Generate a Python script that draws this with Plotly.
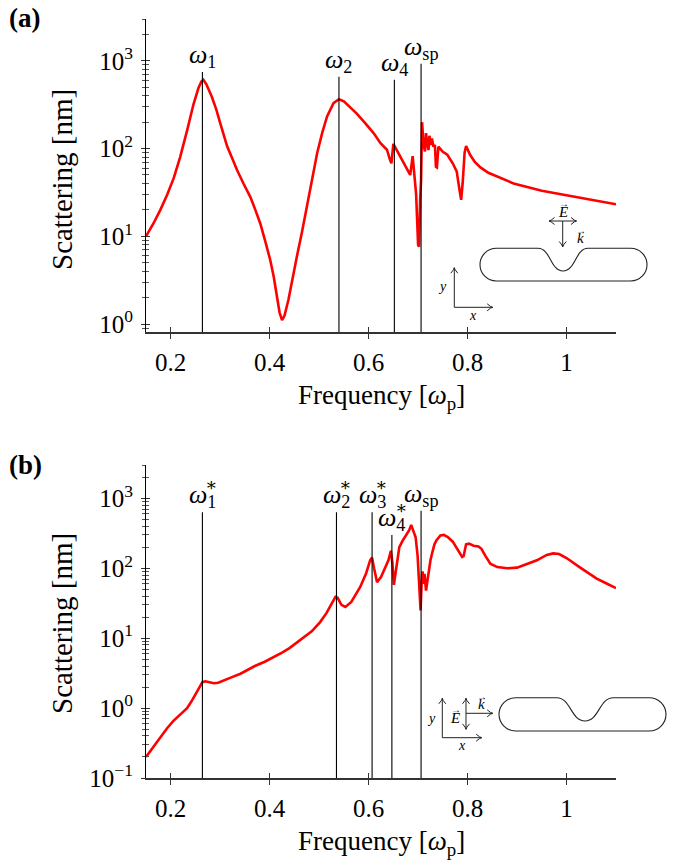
import math
import plotly.graph_objects as go

# ---------------- data ----------------
freq_a = [0.15, 0.165, 0.179, 0.193, 0.206, 0.219, 0.233, 0.246, 0.256, 0.262, 0.266, 0.272, 0.283,
          0.292, 0.300, 0.307, 0.314, 0.324, 0.334, 0.347, 0.361, 0.371, 0.381, 0.391, 0.401, 0.408,
          0.415, 0.420, 0.425, 0.430, 0.438, 0.446, 0.455, 0.465, 0.475, 0.486, 0.496, 0.506, 0.516,
          0.529, 0.540, 0.550, 0.563, 0.576, 0.593, 0.610, 0.624, 0.637, 0.643, 0.646, 0.650, 0.655,
          0.668, 0.684, 0.689, 0.692, 0.696, 0.700, 0.702, 0.704, 0.706, 0.708, 0.711, 0.714, 0.716,
          0.718, 0.721, 0.723, 0.725, 0.728, 0.731, 0.734, 0.736, 0.738, 0.741, 0.750, 0.759, 0.770,
          0.778, 0.784, 0.787, 0.790, 0.794, 0.797, 0.805, 0.815, 0.826, 0.842, 0.859, 0.893, 0.950,
          0.994, 1.050, 1.100]
scat_a = [10, 14, 20, 30, 46, 80, 160, 320, 490, 580, 610, 540, 390,
          280, 195, 145, 106, 78, 57, 40, 28, 20, 14, 8.8, 5.4, 3.5,
          2.0, 1.35, 1.11, 1.25, 1.9, 3.3, 5.9, 11, 22, 45, 89, 150, 233,
          330, 365, 345, 295, 250, 195, 150, 115, 97, 75, 68, 113, 100,
          72, 50, 82, 48, 30, 8, 7.6, 25, 44, 200, 110, 93, 150,
          120, 96, 140, 110, 130, 105, 110, 62, 61, 105, 92, 85, 68,
          55, 33, 26, 40, 90, 107, 85, 70, 61, 53, 48, 40, 33,
          29.6, 26, 23.2]

freq_b = [0.15, 0.16, 0.17, 0.18, 0.193, 0.205, 0.215, 0.225, 0.233, 0.242, 0.250, 0.258, 0.264,
          0.270, 0.278, 0.287, 0.296, 0.310, 0.325, 0.341, 0.370, 0.390, 0.408, 0.425, 0.440, 0.462,
          0.485, 0.502, 0.515, 0.525, 0.533, 0.537, 0.545, 0.553, 0.565,
          0.583, 0.595, 0.603, 0.607, 0.611, 0.617, 0.625, 0.640, 0.645, 0.648, 0.651, 0.655, 0.662,
          0.669, 0.676, 0.682, 0.686, 0.690, 0.695, 0.699, 0.702, 0.705, 0.707, 0.709, 0.711, 0.713,
          0.716, 0.719, 0.721, 0.725, 0.728, 0.733, 0.737, 0.745, 0.752, 0.760, 0.770, 0.778, 0.785,
          0.789, 0.792, 0.797, 0.803, 0.812, 0.822, 0.828, 0.836, 0.846, 0.860, 0.880, 0.900, 0.920,
          0.940, 0.960, 0.973, 0.985, 1.000, 1.027, 1.045, 1.061, 1.080, 1.100]
scat_b = [0.2, 0.25, 0.31, 0.39, 0.52, 0.65, 0.76, 0.88, 1.0, 1.25, 1.55, 2.0, 2.35,
          2.42, 2.35, 2.27, 2.3, 2.5, 2.8, 3.1, 4.0, 4.6, 5.3, 6.2, 7.2, 9.3,
          12.5, 17, 23, 31, 39, 38, 30, 28, 33,
          54, 85, 130, 142, 100, 63, 75, 130, 178, 120, 58, 90, 200,
          250, 300, 350, 418, 340, 278, 150, 60, 25, 60, 90, 60, 83,
          48, 70, 83, 130, 161, 220, 250, 295, 300, 280, 240, 195, 160,
          145, 150, 220, 225, 210, 205, 190, 150, 116, 104, 100, 102, 114,
          130, 155, 163, 160, 140, 103, 85, 71, 61, 52]

res_a = [0.264, 0.540, 0.652, 0.706]
res_a_top = [748, 657, 607, 925]
res_a_lab = ["<i>ω</i><sub>1</sub>", "<i>ω</i><sub>2</sub>", "<i>ω</i><sub>4</sub>", "<i>ω</i><sub>sp</sub>"]
res_a_star = [False, False, False, False]

res_b = [0.264, 0.535, 0.607, 0.647, 0.706]
res_b_top = [631, 631, 631, 300, 667]
res_b_lab = ["<i>ω</i><sub>1</sub>", "<i>ω</i><sub>2</sub>", "<i>ω</i><sub>3</sub>", "<i>ω</i><sub>4</sub>", "<i>ω</i><sub>sp</sub>"]
res_b_star = [True, True, True, True, False]

x_ticks = [0.2, 0.4, 0.6, 0.8, 1.0]
x_ticktext = ["0.2", "0.4", "0.6", "0.8", "1"]
ya_ticks = [1, 10, 100, 1000]
yb_ticks = [0.1, 1, 10, 100, 1000]

# ---------------- geometry helpers ----------------
W, H = 674, 860
L, R = 146, 616
TOP, BOT = 19, 778
def PX(x): return (x - L) / (R - L)
def PY(y): return (BOT - y) / (BOT - TOP)

XR = [0.15, 1.1]
YA = [-0.091, math.log10(3000)]
YB = [-1.0, math.log10(3000)]
dom_a = [PY(332), 1.0]
dom_b = [0.0, PY(465)]

FONT = "'Liberation Serif', 'Times New Roman', 'DejaVu Serif', serif"
RED = "#ff0000"
AX = "#333333"

def minor_vals(lo, hi):
    out = []
    for e in range(lo, hi + 1):
        for m in range(2, 10):
            out.append(m * 10 ** e)
    return out

fig = go.Figure()

fig.add_trace(go.Scatter(x=freq_a, y=scat_a, mode="lines", line=dict(color=RED, width=2.6),
                         xaxis="x", yaxis="y", showlegend=False, hoverinfo="skip"))
fig.add_trace(go.Scatter(x=freq_b, y=scat_b, mode="lines", line=dict(color=RED, width=2.6),
                         xaxis="x2", yaxis="y2", showlegend=False, hoverinfo="skip"))

def vlines(ws, tops, ybot, xa, ya):
    xs, ys = [], []
    for w, t in zip(ws, tops):
        xs += [w, w, None]
        ys += [ybot, t, None]
    fig.add_trace(go.Scatter(x=xs, y=ys, mode="lines", line=dict(color="black", width=1.1),
                             xaxis=xa, yaxis=ya, showlegend=False, hoverinfo="skip"))

vlines(res_a, res_a_top, 10 ** YA[0], "x", "y")
vlines(res_b, res_b_top, 10 ** YB[0], "x2", "y2")

fig.add_trace(go.Scatter(x=[None], y=[None], xaxis="x3", yaxis="y3", showlegend=False, hoverinfo="skip"))
fig.add_trace(go.Scatter(x=[None], y=[None], xaxis="x4", yaxis="y4", showlegend=False, hoverinfo="skip"))

tickfont = dict(family=FONT, size=25, color="black")

def xaxis(anchor, inside=False, overlay=None):
    d = dict(range=XR, domain=[0, 1], anchor=anchor, showgrid=False, zeroline=False,
             tickvals=x_ticks, ticktext=x_ticktext, tickfont=tickfont,
             ticks="inside" if inside else "outside", ticklen=5, tickwidth=1, tickcolor=AX,
             showline=not inside, linecolor=AX, linewidth=1.6, showticklabels=not inside,
             ticklabelstandoff=2)
    if overlay:
        d["overlaying"] = overlay
    return d

def yaxis(anchor, rng, dom, ticks, labels, lo, hi, inside=False, overlay=None):
    d = dict(type="log", range=rng, domain=dom, anchor=anchor, showgrid=False, zeroline=False,
             tickvals=ticks, ticktext=labels, tickfont=tickfont,
             ticks="inside" if inside else "outside", ticklen=4, tickwidth=1, tickcolor=AX,
             showline=not inside, linecolor="black", linewidth=1.2, showticklabels=not inside,
             ticklabelstandoff=3,
             minor=dict(tickvals=minor_vals(lo, hi), ticks="inside" if inside else "outside",
                        ticklen=2.5, tickwidth=0.8, tickcolor="#555555"))
    if overlay:
        d["overlaying"] = overlay
    return d

lab_a = ["10<sup>0</sup>", "10<sup>1</sup>", "10<sup>2</sup>", "10<sup>3</sup>"]
lab_b = ["10<sup>−1</sup>", "10<sup>0</sup>", "10<sup>1</sup>", "10<sup>2</sup>", "10<sup>3</sup>"]

fig.update_layout(
    width=W, height=H,
    margin=dict(l=L, r=W - R, t=TOP, b=H - BOT),
    paper_bgcolor="white", plot_bgcolor="white",
    font=dict(family=FONT, color="black"),
    xaxis=xaxis("y"),
    yaxis=yaxis("x", YA, dom_a, ya_ticks, lab_a, -1, 3),
    xaxis2=xaxis("y2"),
    yaxis2=yaxis("x2", YB, dom_b, yb_ticks, lab_b, -1, 3),
    xaxis3=xaxis("y3", inside=True, overlay="x"),
    yaxis3=yaxis("x3", YA, dom_a, ya_ticks, lab_a, -1, 3, inside=True, overlay="y"),
    xaxis4=xaxis("y4", inside=True, overlay="x2"),
    yaxis4=yaxis("x4", YB, dom_b, yb_ticks, lab_b, -1, 3, inside=True, overlay="y2"),
)

ann = []
LBL = 26
for w, t, lab, st in zip(res_a, res_a_top, res_a_lab, res_a_star):
    ann.append(dict(x=w, y=math.log10(t), xref="x", yref="y", text=lab, showarrow=False,
                    xanchor="center", yanchor="bottom", yshift=-2, font=dict(size=LBL, family=FONT)))
for w, t, lab, st in zip(res_b, res_b_top, res_b_lab, res_b_star):
    ann.append(dict(x=w, y=math.log10(t), xref="x2", yref="y2", text=lab, showarrow=False,
                    xanchor="center", yanchor="bottom", yshift=-2, font=dict(size=LBL, family=FONT)))
    if st:
        ann.append(dict(x=w, y=math.log10(t), xref="x2", yref="y2", text="∗", showarrow=False,
                        xanchor="center", yanchor="bottom", xshift=9, yshift=15,
                        font=dict(size=18, family=FONT)))

def ptxt(x, y, text, size, **kw):
    d = dict(x=PX(x), y=PY(y), xref="paper", yref="paper", text=text, showarrow=False,
             xanchor="center", yanchor="middle", font=dict(size=size, family=FONT, color="black"))
    d.update(kw)
    ann.append(d)

ptxt(7, 18, "<b>(a)</b>", 27, xanchor="left")
ptxt(7, 465, "<b>(b)</b>", 27, xanchor="left")
ptxt(381, 397, "Frequency [<i>ω</i><sub>p</sub>]", 27)
ptxt(381, 843, "Frequency [<i>ω</i><sub>p</sub>]", 27)
ptxt(62, 180, "Scattering [nm]", 29, textangle=-90)
ptxt(62, 624, "Scattering [nm]", 29, textangle=-90)

# inset labels
ptxt(442.7, 286.7, "<i>y</i>", 14)
ptxt(473.3, 315, "<i>x</i>", 14)
ptxt(562.7, 212, "<i>E</i>", 15)
ptxt(563.5, 203.5, "→", 10)
ptxt(580, 238, "<i>k</i>", 15)
ptxt(580.5, 230, "→", 10)
ptxt(431.7, 718, "<i>y</i>", 14)
ptxt(461.7, 745.5, "<i>x</i>", 14)
ptxt(455, 718, "<i>E</i>", 15)
ptxt(455.8, 709.5, "→", 10)
ptxt(481.7, 704, "<i>k</i>", 15)
ptxt(482.2, 696, "→", 10)

fig.update_layout(annotations=ann)

# ---------------- inset drawings ----------------
shapes = []
LC = "#222222"

def P(x, y):
    return f"{PX(x):.5f},{PY(y):.5f}"

def line(x0, y0, x1, y1):
    shapes.append(dict(type="path", xref="paper", yref="paper", path=f"M{P(x0,y0)} L{P(x1,y1)}",
                       line=dict(color=LC, width=1)))

def head(x0, y0, x1, y1):
    dx, dy = x1 - x0, y1 - y0
    n = math.hypot(dx, dy)
    ux, uy = dx / n, dy / n
    a, b = 5.5, 3.5
    p1 = (x1 - a * ux - b * uy, y1 - a * uy + b * ux)
    p2 = (x1 - a * ux + b * uy, y1 - a * uy - b * ux)
    shapes.append(dict(type="path", xref="paper", yref="paper",
                       path=f"M{P(*p1)} Q{P(x1 - 1.5*ux, y1 - 1.5*uy)} {P(x1,y1)} Q{P(x1 - 1.5*ux, y1 - 1.5*uy)} {P(*p2)}",
                       line=dict(color=LC, width=1)))

def arrow(x0, y0, x1, y1, both=False):
    line(x0, y0, x1, y1)
    head(x0, y0, x1, y1)
    if both:
        head(x1, y1, x0, y0)

def stadium(xl, xr, yt, yb, n0, n1, nb):
    r = (yb - yt) / 2
    k = 0.5523 * r
    nc = (n0 + n1) / 2
    hw = (n1 - n0) / 2
    path = (f"M{P(xl + r, yt)} L{P(n0, yt)} "
            f"C{P(n0 + 0.5*hw, yt)} {P(nc - 0.5*hw, nb)} {P(nc, nb)} "
            f"C{P(nc + 0.5*hw, nb)} {P(n1 - 0.5*hw, yt)} {P(n1, yt)} "
            f"L{P(xr - r, yt)} "
            f"C{P(xr - r + k, yt)} {P(xr, yt + r - k)} {P(xr, yt + r)} "
            f"C{P(xr, yt + r + k)} {P(xr - r + k, yb)} {P(xr - r, yb)} "
            f"L{P(xl + r, yb)} "
            f"C{P(xl + r - k, yb)} {P(xl, yt + r + k)} {P(xl, yt + r)} "
            f"C{P(xl, yt + r - k)} {P(xl + r - k, yt)} {P(xl + r, yt)} Z")
    shapes.append(dict(type="path", xref="paper", yref="paper", path=path,
                       line=dict(color=LC, width=1.1)))

stadium(480, 647, 248.3, 281, 538, 588, 271)
arrow(562.7, 221, 562.7, 247)
arrow(549, 221, 576.5, 221, both=True)
arrow(454.3, 307.3, 454.3, 267.7)
arrow(454.3, 307.3, 492.7, 307.3)

stadium(499, 666, 697.7, 731, 556.7, 613.3, 721)
arrow(442.3, 737.7, 442.3, 698.3)
arrow(442.3, 737.7, 481.7, 737.7)
arrow(466, 698.3, 466, 729.3, both=True)
arrow(466, 713.3, 492.7, 713.3)

fig.update_layout(shapes=shapes)

fig.write_html("out.html")
